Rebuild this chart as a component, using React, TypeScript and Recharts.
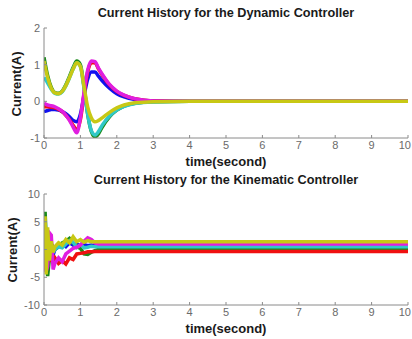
import React from 'react'
import { LineChart, Line, XAxis, YAxis } from 'recharts'

// time samples (s)
const T_DYN = [0, 0.1, 0.2, 0.3, 0.4, 0.5, 0.6, 0.7, 0.8, 0.9, 1.0, 1.1, 1.2, 1.3, 1.4, 1.5, 1.6, 1.8, 2.0, 2.2, 2.5, 3, 4, 5, 6, 7, 8, 9, 10]
const T_KIN = [0, 0.03, 0.06, 0.1, 0.15, 0.2, 0.25, 0.3, 0.4, 0.5, 0.6, 0.7, 0.8, 0.9, 1.0, 1.1, 1.2, 1.3, 1.4, 1.5, 1.7, 2, 3, 4, 5, 6, 7, 8, 9, 10]

// Dynamic controller currents (A)
const DYN_BLUE = [-0.28, -0.25, -0.22, -0.22, -0.24, -0.28, -0.34, -0.42, -0.52, -0.56, -0.35, 0.15, 0.6, 0.8, 0.8, 0.68, 0.56, 0.36, 0.21, 0.12, 0.05, 0.01, 0, 0, 0, 0, 0, 0, 0]
const DYN_GREEN = [1.2, 0.7, 0.38, 0.24, 0.22, 0.28, 0.45, 0.68, 0.92, 1.1, 1.0, 0.4, -0.35, -0.82, -0.97, -0.88, -0.7, -0.42, -0.24, -0.13, -0.05, -0.01, 0, 0, 0, 0, 0, 0, 0]
const DYN_RED = [-0.15, -0.15, -0.16, -0.18, -0.22, -0.28, -0.38, -0.5, -0.65, -0.78, -0.5, 0.2, 0.8, 1.05, 1.05, 0.88, 0.72, 0.45, 0.27, 0.16, 0.07, 0.01, 0, 0, 0, 0, 0, 0, 0]
const DYN_CYAN = [0.65, 0.5, 0.33, 0.22, 0.2, 0.26, 0.42, 0.64, 0.88, 1.05, 0.95, 0.35, -0.35, -0.8, -0.92, -0.82, -0.65, -0.4, -0.24, -0.14, -0.06, -0.02, 0, 0, 0, 0, 0, 0, 0]
const DYN_MAGENTA = [-0.05, -0.1, -0.12, -0.15, -0.2, -0.27, -0.38, -0.52, -0.7, -0.86, -0.45, 0.25, 0.85, 1.1, 1.08, 0.9, 0.74, 0.46, 0.28, 0.17, 0.07, 0.01, 0, 0, 0, 0, 0, 0, 0]
const DYN_YELLOW = [1.1, 0.65, 0.36, 0.23, 0.21, 0.27, 0.43, 0.65, 0.88, 1.05, 0.95, 0.4, -0.15, -0.45, -0.56, -0.52, -0.45, -0.3, -0.18, -0.1, -0.04, -0.01, 0, 0, 0, 0, 0, 0, 0]

// Kinematic controller currents (A)
const KIN_BLUE = [0, 3, -2, 1.5, -1, 0.5, -1, 0, 0.5, 1, 0.5, 1.2, 0.8, 1.0, 0.6, 0.9, 0.7, 0.8, 0.7, 0.7, 0.7, 0.7, 0.7, 0.7, 0.7, 0.7, 0.7, 0.7, 0.7, 0.7]
const KIN_GREEN = [0, 6.8, 2, -4.8, -1.5, -0.5, 0.5, 0, 0.5, 1.2, 1.5, 2.0, 1.2, 0.5, 0.2, -0.8, -0.9, -0.5, -0.2, 0, 0.1, 0.1, 0.1, 0.1, 0.1, 0.1, 0.1, 0.1, 0.1, 0.1]
const KIN_RED = [0, -3, -0.5, -1.5, -1, -2, -2.2, -1.5, -2.5, -2, -2.6, -1.5, -1.8, -0.8, -0.7, -0.6, -0.4, -0.4, -0.35, -0.35, -0.35, -0.35, -0.35, -0.35, -0.35, -0.35, -0.35, -0.35, -0.35, -0.35]
const KIN_CYAN = [0, 2, -3, -2, -1, 0, -0.5, 0, 0.5, 0.3, 1.0, 1.6, 1.3, 0.4, 0.9, 0.3, 0.4, 0.6, 0.5, 0.5, 0.5, 0.5, 0.5, 0.5, 0.5, 0.5, 0.5, 0.5, 0.5, 0.5]
const KIN_MAGENTA = [0, -3, -4, -3, 3, 2.6, -3.6, -2.5, -1.5, -2.2, -0.8, -0.3, 0.2, 0.4, 0.8, 1.5, 2.1, 1.8, 1.2, 1.0, 1.0, 1.0, 1.0, 1.0, 1.0, 1.0, 1.0, 1.0, 1.0, 1.0]
const KIN_YELLOW = [0, 6, -4.5, 4, -2, 1.5, -0.5, 0.5, 1.2, 0.8, 1.8, 1.2, 2.3, 1.4, 1.8, 1.3, 1.6, 1.4, 1.4, 1.4, 1.4, 1.4, 1.4, 1.4, 1.4, 1.4, 1.4, 1.4, 1.4, 1.4]

const X_TICKS = [0, 1, 2, 3, 4, 5, 6, 7, 8, 9, 10]
const DYN_Y_TICKS = [-1, 0, 1, 2]
const KIN_Y_TICKS = [-10, -5, 0, 5, 10]

// MATLAB colour order: b, g, r, c, m, y
const SERIES = [
  { key: 'b', color: '#1010f0' },
  { key: 'g', color: '#1a8a1a' },
  { key: 'r', color: '#f01010' },
  { key: 'c', color: '#30c8c8' },
  { key: 'm', color: '#e01ee0' },
  { key: 'y', color: '#c8c814' },
]

const buildRows = (t: number[], cols: number[][]) =>
  t.map((tt, i) => {
    const row: Record<string, number> = { t: tt }
    SERIES.forEach((s, j) => { row[s.key] = cols[j][i] })
    return row
  })

const dynRows = buildRows(T_DYN, [DYN_BLUE, DYN_GREEN, DYN_RED, DYN_CYAN, DYN_MAGENTA, DYN_YELLOW])
const kinRows = buildRows(T_KIN, [KIN_BLUE, KIN_GREEN, KIN_RED, KIN_CYAN, KIN_MAGENTA, KIN_YELLOW])

const FONT = '"Liberation Sans", Arial, sans-serif'
const AXIS = '#8a8a8a'
const TICK_FILL = '#6a6a6a'
const tickStyle = { fontSize: 11, fill: TICK_FILL, fontFamily: FONT }

// x tick; the last label is pulled in so it stays inside the window
const XTick = (props: any) => {
  const { x, y, payload } = props
  const last = payload.value === 10
  return (
    <text x={last ? x + 3 : x} y={y} dy="0.71em" textAnchor={last ? 'end' : 'middle'}
      fontSize={11} fill={TICK_FILL} fontFamily={FONT}>
      {payload.value}
    </text>
  )
}

interface PanelProps {
  rows: Record<string, number>[]
  yDomain: [number, number]
  yTicks: number[]
  height: number
  top: number
  bottom: number
  curve: 'monotone' | 'linear'
  width: number
}

function Panel({ rows, yDomain, yTicks, height, top, bottom, curve, width }: PanelProps) {
  return (
    <LineChart width={412} height={height} data={rows} margin={{ top, right: 4, bottom, left: 14 }}>
      <XAxis dataKey="t" type="number" domain={[0, 10]} ticks={X_TICKS} interval={0}
        allowDataOverflow height={20} stroke={AXIS} tickSize={-3} tickMargin={6} tick={<XTick />} />
      <XAxis xAxisId="top" orientation="top" type="number" domain={[0, 10]} ticks={X_TICKS} interval={0}
        height={0} stroke={AXIS} tickSize={-3} tick={false} />
      <YAxis type="number" domain={yDomain} ticks={yTicks} interval={0} allowDataOverflow
        width={30} stroke={AXIS} tickSize={-3} tickMargin={7} tick={tickStyle} />
      <YAxis yAxisId="right" orientation="right" type="number" domain={yDomain} ticks={yTicks} interval={0}
        width={0} stroke={AXIS} tickSize={-3} tick={false} />
      {SERIES.map(s => (
        <Line key={s.key} type={curve} dataKey={s.key} stroke={s.color} strokeWidth={width}
          dot={false} isAnimationActive={false} />
      ))}
    </LineChart>
  )
}

const titleStyle: React.CSSProperties = {
  position: 'absolute', left: 44, width: 364, textAlign: 'center',
  fontFamily: FONT, fontWeight: 'bold', fontSize: 12.7, color: '#1a1a1a', lineHeight: '14px',
}
const xLabelStyle: React.CSSProperties = {
  position: 'absolute', left: 44, width: 364, textAlign: 'center',
  fontFamily: FONT, fontWeight: 'bold', fontSize: 13, color: '#1a1a1a', lineHeight: '16px',
}
const yLabelStyle = (cx: number, cy: number): React.CSSProperties => ({
  position: 'absolute', left: cx - 50, top: cy - 8, width: 100, height: 16, textAlign: 'center',
  fontFamily: FONT, fontWeight: 'bold', fontSize: 13, color: '#1a1a1a', lineHeight: '16px',
  transform: 'rotate(-90deg)',
})

export default function App() {
  return (
    <div style={{ position: 'absolute', left: 0, top: 0, width: 412, height: 339, background: '#fff', overflow: 'hidden' }}>
      <div style={{ position: 'absolute', left: 0, top: 0 }}>
        <Panel rows={dynRows} yDomain={[-1, 2]} yTicks={DYN_Y_TICKS} height={170} top={28} bottom={12} curve="monotone" width={3.5} />
      </div>
      <div style={{ position: 'absolute', left: 0, top: 170 }}>
        <Panel rows={kinRows} yDomain={[-10, 10]} yTicks={KIN_Y_TICKS} height={169} top={24} bottom={14} curve="linear" width={3.5} />
      </div>
      <div style={{ ...titleStyle, top: 6 }}>Current History for the Dynamic Controller</div>
      <div style={{ ...xLabelStyle, top: 154 }}>time(second)</div>
      <div style={yLabelStyle(17, 84)}>Current(A)</div>
      <div style={{ ...titleStyle, top: 173 }}>Current History for the Kinematic Controller</div>
      <div style={{ ...xLabelStyle, top: 321 }}>time(second)</div>
      <div style={yLabelStyle(13, 250)}>Current(A)</div>
    </div>
  )
}
